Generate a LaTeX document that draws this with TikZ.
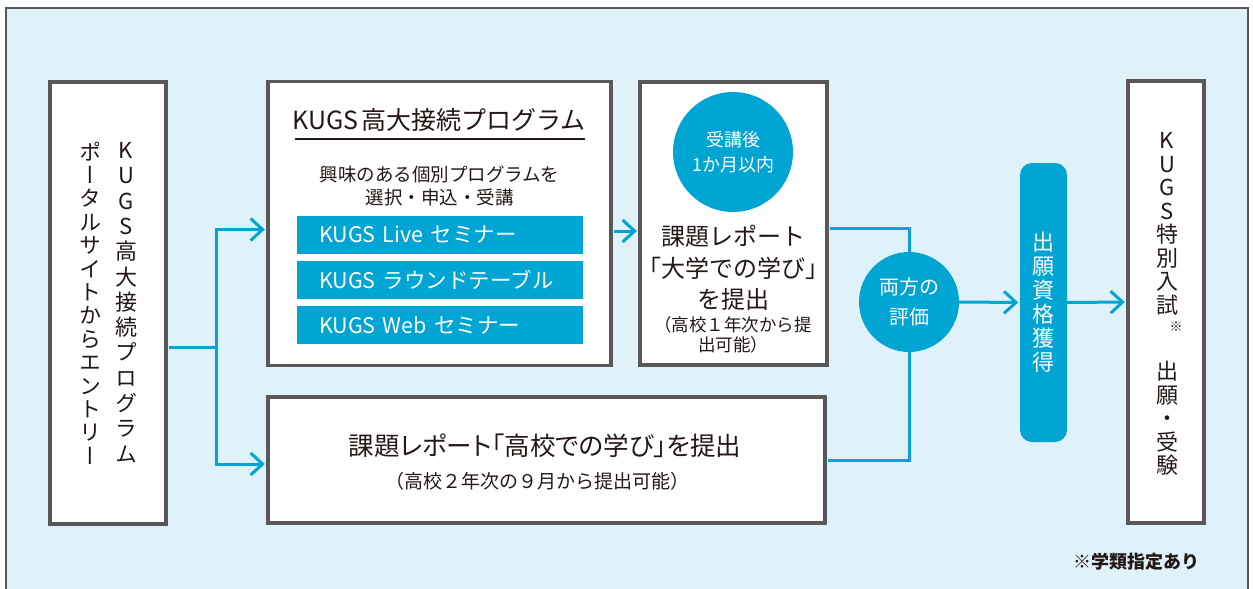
\documentclass[tikz,border=0pt]{standalone}
\usepackage{fontspec}
\setmainfont{Noto Sans CJK JP}
\newfontfamily\tatefont[RawFeature=+vert]{Noto Sans CJK JP}
\newfontfamily\paltfont[RawFeature=+palt]{Noto Sans CJK JP}
\usetikzlibrary{arrows.meta}

\definecolor{kugsBlue}{HTML}{00A5D4}
\definecolor{paleBlue}{HTML}{DFF2FA}
\definecolor{frameGray}{HTML}{595757}
\definecolor{inkBlack}{HTML}{231815}

\newcommand{\fsz}[2]{\fontsize{#1}{#2}\selectfont}

\begin{document}
\begin{tikzpicture}[x=1pt, y=-1pt,
    every node/.style={text=inkBlack},
    boxStyle/.style={draw=frameGray, line width=3.2pt, fill=white, inner sep=0pt},
    barStyle/.style={fill=kugsBlue, text=white, minimum width=286pt, minimum height=38pt,
        text width=242pt, inner xsep=22pt, align=left, font=\fsz{21.5}{24}},
    ballStyle/.style={circle, fill=kugsBlue, text=white, inner sep=0pt, align=center},
    tateStyle/.style={align=center, inner sep=0pt, font=\tatefont\fsz{22}{23.5}},
    lineStyle/.style={draw=kugsBlue, line width=3pt},
    arrowStyle/.style={lineStyle, shorten >=1.6pt, -{Straight Barb[length=12pt, width=22pt]}}]
    \useasboundingbox (0,0) rectangle (1253,589);
    \fill[white] (0,0) rectangle (1253,589);
    \draw[draw=frameGray, line width=1.5pt, fill=paleBlue] (6,8) rectangle (1248,600);

    % left: entry
    \node[boxStyle, minimum width=116pt, minimum height=442pt] (entry) at (108,303) {};
    \node[tateStyle, font=\tatefont\fsz{22}{25.3}] (entryA) at (126,302.5) {K\\U\\G\\S\\高\\大\\接\\続\\プ\\ロ\\グ\\ラ\\ム};
    \node[tateStyle, font=\tatefont\fsz{22}{23.4}] (entryB) at (90,303) {ポ\\ー\\タ\\ル\\サ\\イ\\ト\\か\\ら\\エ\\ン\\ト\\リ\\ー};
    \coordinate (split) at (216,347);

    % program
    \node[boxStyle, minimum width=343pt, minimum height=284pt] (prog) at (439.5,223.5) {};
    \node[font=\fsz{25}{25}] (progTitle) at (439,120) {KUGS\hspace{3pt}高大接続プログラム};
    \draw[draw=inkBlack, line width=1.2pt] (295,139) -- (585,139);
    \node[align=center, font=\fsz{18.5}{23}] (progSub) at (439.5,185.5) {興味のある個別プログラムを\\選択・申込・受講};
    \node[barStyle] (barLive) at (440,235) {KUGS Live セミナー};
    \node[barStyle] (barRound) at (440,280) {KUGS ラウンドテーブル};
    \node[barStyle] (barWeb) at (440,325) {KUGS Web セミナー};

    % report 1
    \node[boxStyle, minimum width=187pt, minimum height=283pt] (rep1) at (733.5,223.5) {};
    \node[ballStyle, minimum size=120pt, font=\fsz{18}{25}] (rep1Ball) at (733,152) {受講後\\1か月以内};
    \node[align=center, font=\fsz{24}{31.5}] (rep1Text) at (733,268) {課題レポート\\「大学での学び」\\を提出};
    \node[align=center, font=\fsz{17.5}{20}] (rep1Note) at (733,335) {（高校１年次から提\\出可能）};

    % report 2
    \node[boxStyle, minimum width=557pt, minimum height=126pt] (rep2) at (546.5,460) {};
    \node[font=\paltfont\fsz{25.5}{25.5}] (rep2Text) at (545,446) {課題レポート「高校での学び」を提出};
    \node[font=\fsz{19}{19}] (rep2Note) at (537,481) {（高校２年次の９月から提出可能）};

    % right side
    \node[ballStyle, minimum size=100pt, font=\fsz{20}{30}] (both) at (909,302) {両方の\\評価};
    \node[tateStyle, fill=kugsBlue, text=white, rounded corners=12pt, minimum width=47pt,
        minimum height=279pt, font=\tatefont\fsz{22}{24}] (qual) at (1043.5,302.5) {出\\願\\資\\格\\獲\\得};
    \node[boxStyle, minimum width=76pt, minimum height=442pt] (exam) at (1166,302) {};
    \node[tateStyle] (examA) at (1167,224) {K\\U\\G\\S\\特\\別\\入\\試};
    \node[font=\fsz{13}{13}, inner sep=0pt] (examMark) at (1176,327) {※};
    \node[tateStyle] (examB) at (1167,418.5) {出\\願\\・\\受\\験};
    \node[font=\bfseries\fsz{18}{18}] (footNote) at (1136,562) {※学類指定あり};

    % connectors
    \draw[lineStyle, shorten <=1.6pt] (entry.east |- split) -- (split);
    \draw[arrowStyle] (split) |- ([yshift=-6pt]prog.west);
    \draw[arrowStyle] (split) |- ([yshift=-4pt]rep2.west);
    \draw[arrowStyle, shorten <=1.6pt] ([yshift=-7.5pt]prog.east) -- ([yshift=-7.5pt]rep1.west);
    \draw[lineStyle, shorten <=1.6pt] ([yshift=-4.5pt]rep1.east) -| (both.north);
    \draw[lineStyle, shorten <=1.6pt] (rep2.east) -| (both.south);
    \draw[arrowStyle] (both.east) -- (qual.west);
    \draw[arrowStyle] (qual.east) -- (exam.west);
\end{tikzpicture}
\end{document}
